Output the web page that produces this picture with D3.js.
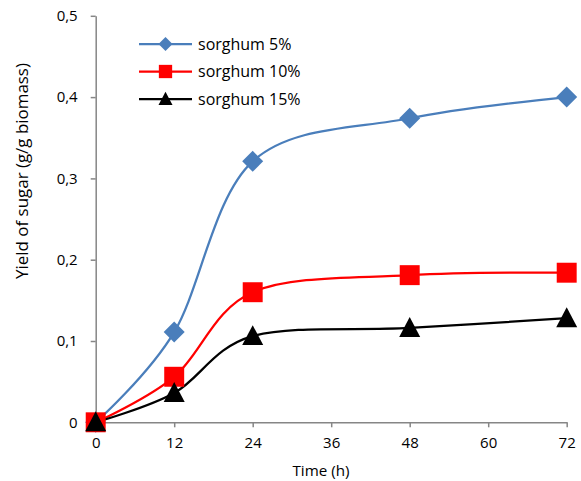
<!DOCTYPE html>
<html><head><meta charset="utf-8">
<script src="https://cdn.jsdelivr.net/npm/d3@7"></script>
<style>body{margin:0;background:#fff}svg{display:block}text{font-family:"Open Sans","Liberation Sans",sans-serif;fill:#000}</style>
</head><body>
<svg id="c" width="581" height="481"></svg>
<script>
const times = [0, 12, 24, 48, 72];
const s5 = [0, 0.111, 0.321, 0.374, 0.400];
const s10 = [0, 0.056, 0.160, 0.181, 0.184];
const s15 = [0, 0.036, 0.106, 0.116, 0.128];
const seriesNames = ["sorghum 5%", "sorghum 10%", "sorghum 15%"];
const xTicks = [0, 12, 24, 36, 48, 60, 72];
const yTicks = [0, 0.1, 0.2, 0.3, 0.4, 0.5];
const yTickLabels = ["0", "0,1", "0,2", "0,3", "0,4", "0,5"];

const svg = d3.select("#c");
const x = d3.scaleLinear().domain([0, 72]).range([95.7, 566.7]);
const y = d3.scaleLinear().domain([0, 0.5]).range([422.3, 15.8]);
const axisColor = "#868686";

const xAxis = svg.append("g").attr("transform", `translate(0,${y(0)})`)
  .call(d3.axisBottom(x).tickValues(xTicks).tickSize(5).tickSizeOuter(0).tickPadding(10));
const yAxis = svg.append("g").attr("transform", `translate(${x(0)},0)`)
  .call(d3.axisLeft(y).tickValues(yTicks).tickSize(5).tickSizeOuter(0).tickPadding(13)
    .tickFormat((d, i) => yTickLabels[i]));
[xAxis, yAxis].forEach(g => {
  g.select(".domain").attr("stroke", axisColor).attr("stroke-width", 1.5);
  g.selectAll(".tick line").attr("stroke", axisColor).attr("stroke-width", 1.5);
  g.selectAll(".tick text").attr("font-size", 15).attr("font-family", "Open Sans, Liberation Sans, sans-serif").attr("fill", "#000");
});

svg.append("text").attr("x", 321).attr("y", 476).attr("text-anchor", "middle").attr("font-size", 15.2).text("Time (h)");
const yt = svg.append("text").attr("transform", `translate(28,171) rotate(-90)`).attr("text-anchor", "middle").attr("font-size", 14).text("Yield of sugar (g/g biomass)");
// fit title to the reference's width
const len = yt.node().getComputedTextLength();
if (len > 0) yt.attr("font-size", Math.max(12, Math.min(17, 14 * 216 / len)));

const colors = ["#4a7ebb", "#ff0000", "#000000"];
const data = [s5, s10, s15];
const line = d3.line().x(d => x(d[0])).y(d => y(d[1])).curve(d3.curveCardinal.tension(0));

function marker(g, k, cx, cy, s) {
  if (k === 0) {
    g.append("path").attr("d", `M${cx},${cy-s}L${cx+s},${cy}L${cx},${cy+s}L${cx-s},${cy}Z`).attr("fill", colors[0]);
  } else if (k === 1) {
    g.append("rect").attr("x", cx - s*0.95).attr("y", cy - s*0.95).attr("width", s*1.9).attr("height", s*1.9).attr("fill", colors[1]);
  } else {
    const h = s*1.9;
    g.append("path").attr("d", `M${cx},${cy-h*0.55}L${cx+s},${cy+h*0.45}L${cx-s},${cy+h*0.45}Z`).attr("fill", colors[2]);
  }
}

data.forEach((vals, k) => {
  const pts = times.map((t, i) => [t, vals[i]]);
  svg.append("path").attr("d", line(pts)).attr("fill", "none").attr("stroke", colors[k]).attr("stroke-width", 2.25);
});
data.forEach((vals, k) => {
  const g = svg.append("g");
  times.forEach((t, i) => marker(g, k, x(t), y(vals[i]), 10.5));
});

// legend
const legY = [44, 71.5, 99];
seriesNames.forEach((n, k) => {
  const g = svg.append("g");
  g.append("line").attr("x1", 139).attr("x2", 192).attr("y1", legY[k]).attr("y2", legY[k]).attr("stroke", colors[k]).attr("stroke-width", 2.25);
  marker(g, k, 165.5, legY[k], 7);
  g.append("text").attr("x", 198).attr("y", legY[k] + 5.5).attr("font-size", 16).text(n);
});
</script>
</body></html>
